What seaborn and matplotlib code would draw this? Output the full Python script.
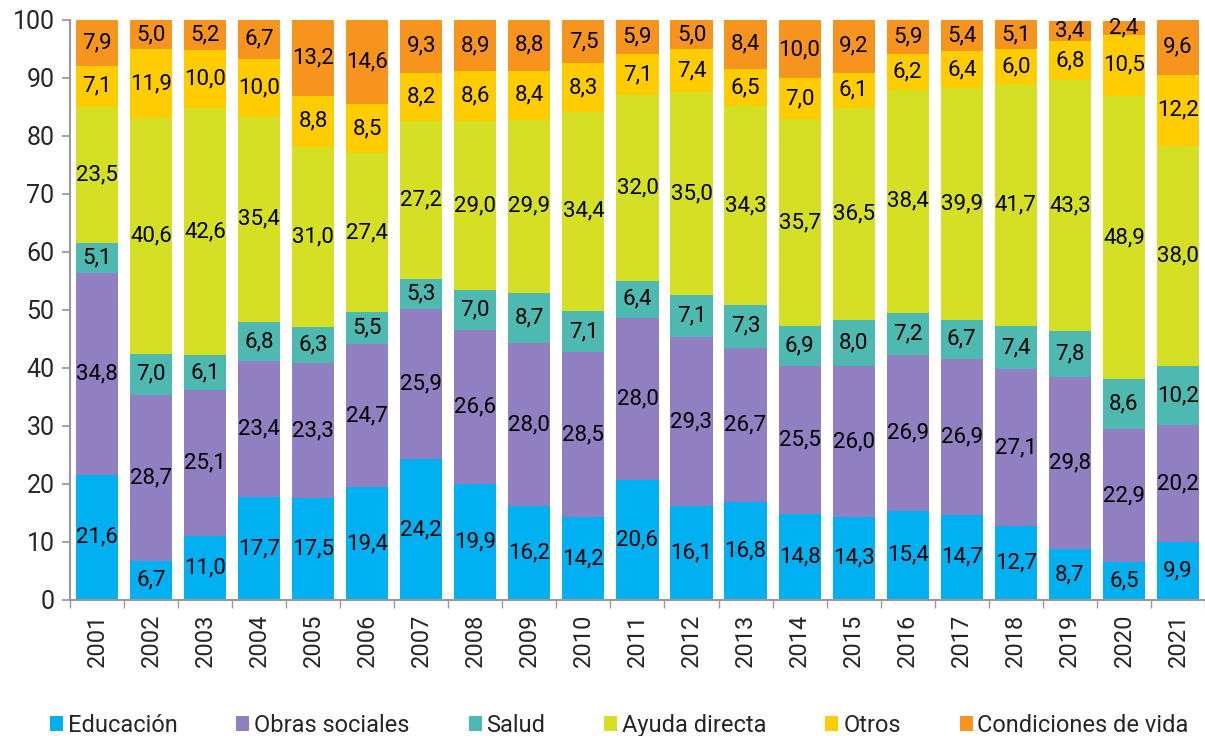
import numpy as np
import pandas as pd
import seaborn as sns
import matplotlib.pyplot as plt
from matplotlib.patches import Patch

years = [str(y) for y in range(2001, 2022)]
categories = ["Educación", "Obras sociales", "Salud", "Ayuda directa", "Otros", "Condiciones de vida"]
colors = ["#00B0F0", "#9080C2", "#4DB9B1", "#D5DF23", "#FFCC00", "#F7941D"]

educacion = [21.6, 6.7, 11.0, 17.7, 17.5, 19.4, 24.2, 19.9, 16.2, 14.2, 20.6, 16.1, 16.8, 14.8, 14.3, 15.4, 14.7, 12.7, 8.7, 6.5, 9.9]
obras = [34.8, 28.7, 25.1, 23.4, 23.3, 24.7, 25.9, 26.6, 28.0, 28.5, 28.0, 29.3, 26.7, 25.5, 26.0, 26.9, 26.9, 27.1, 29.8, 22.9, 20.2]
salud = [5.1, 7.0, 6.1, 6.8, 6.3, 5.5, 5.3, 7.0, 8.7, 7.1, 6.4, 7.1, 7.3, 6.9, 8.0, 7.2, 6.7, 7.4, 7.8, 8.6, 10.2]
ayuda = [23.5, 40.6, 42.6, 35.4, 31.0, 27.4, 27.2, 29.0, 29.9, 34.4, 32.0, 35.0, 34.3, 35.7, 36.5, 38.4, 39.9, 41.7, 43.3, 48.9, 38.0]
otros = [7.1, 11.9, 10.0, 10.0, 8.8, 8.5, 8.2, 8.6, 8.4, 8.3, 7.1, 7.4, 6.5, 7.0, 6.1, 6.2, 6.4, 6.0, 6.8, 10.5, 12.2]
condiciones = [7.9, 5.0, 5.2, 6.7, 13.2, 14.6, 9.3, 8.9, 8.8, 7.5, 5.9, 5.0, 8.4, 10.0, 9.2, 5.9, 5.4, 5.1, 3.4, 2.4, 9.6]

series = [educacion, obras, salud, ayuda, otros, condiciones]

df = pd.DataFrame(dict(zip(categories, series)), index=years)
cum = df.cumsum(axis=1)

sns.set_theme(style="white")
plt.rcParams['font.family'] = ['Roboto', 'DejaVu Sans']

fig = plt.figure(figsize=(12.05, 7.36), dpi=100)
ax = fig.add_axes([0.058, 0.185, 0.942, 0.788])

# draw cumulative totals from top layer down so each layer covers the previous
for cat, col in reversed(list(zip(categories, colors))):
    sns.barplot(x=years, y=cum[cat].values, color=col, width=0.78,
                saturation=1, linewidth=0, edgecolor='none', ax=ax, zorder=2)

# value labels centred in each segment
for cat in categories:
    tops = cum[cat].values
    vals = df[cat].values
    for i, (t, v) in enumerate(zip(tops, vals)):
        ax.text(i, t - v / 2, f"{v:.1f}".replace('.', ','), ha='center', va='center',
                fontsize=16, color='black', zorder=3)

ax.set_ylim(0, 100)
ax.set_xlim(-0.5, len(years) - 0.5)
ax.set_yticks(range(0, 101, 10))
ax.tick_params(axis='y', labelsize=18, length=6, color='#999999', direction='out', left=True, pad=5)
ax.set_xticks(range(len(years)))
ax.set_xticklabels(years, rotation=90, fontsize=17)
ax.tick_params(axis='x', which='major', length=0, pad=10)
ax.set_xticks(np.arange(-0.5, len(years)), minor=True)
ax.tick_params(axis='x', which='minor', length=6, color='#999999', bottom=True)

for side in ['top', 'right']:
    ax.spines[side].set_visible(False)
for side in ['left', 'bottom']:
    ax.spines[side].set_color('#999999')
    ax.spines[side].set_linewidth(1.5)

handles = [Patch(facecolor=c, edgecolor='none') for c in colors]
fig.legend(handles, categories, loc='lower center', bbox_to_anchor=(0.514, -0.03), ncol=6,
           frameon=False, fontsize=17, handlelength=0.55, handleheight=0.55,
           handletextpad=0.2, columnspacing=2.5)

fig.savefig("out.png", dpi=100)
